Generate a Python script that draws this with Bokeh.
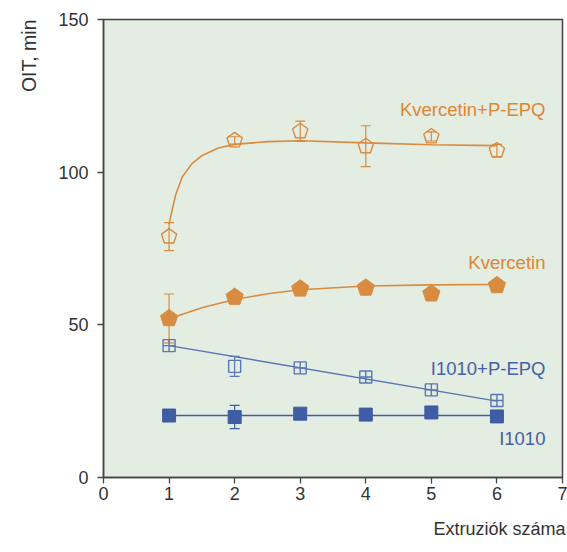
from bokeh.plotting import figure
from bokeh.models import ColumnDataSource, Whisker, TeeHead, Label, FixedTicker, Title
from bokeh.embed import file_html
from bokeh.resources import INLINE

# Data
x = [1, 2, 3, 4, 5, 6]
kv_pepq = [78.9, 110.4, 113.4, 108.5, 111.7, 107.1]
kv_pepq_err = [4.6, 1.2, 3.3, 6.7, 1.5, 2.0]
kv = [52.1, 59.1, 61.8, 62.1, 60.2, 62.9]
kv_err = [8.0, 0.0, 0.0, 0.0, 0.0, 0.0]
i_pepq = [43.2, 36.4, 35.9, 32.9, 28.7, 25.2]
i_pepq_err = [0.0, 3.3, 0.0, 0.0, 0.0, 0.0]
i1010 = [20.3, 19.8, 20.9, 20.6, 21.3, 20.0]
i1010_err = [0.0, 3.8, 0.0, 0.0, 0.0, 0.0]

# Fit curves
kv_pepq_fit_x = [1.0, 1.05, 1.1, 1.2, 1.35, 1.5, 1.75, 2.0, 2.5, 3.0, 4.0, 5.0, 6.0]
kv_pepq_fit_y = [83.0, 88.0, 92.5, 98.4, 102.8, 105.4, 107.9, 109.1, 110.0, 110.3, 109.6, 109.0, 108.7]
kv_fit_x = [1.0, 1.5, 2.0, 2.5, 3.0, 4.0, 5.0, 6.0]
kv_fit_y = [52.0, 55.6, 58.3, 60.2, 61.5, 62.7, 63.1, 63.2]
i_pepq_fit_x = [1.0, 6.0]
i_pepq_fit_y = [43.2, 25.0]
i1010_fit_x = [1.0, 6.0]
i1010_fit_y = [20.3, 20.3]

x_ticks = [0, 1, 2, 3, 4, 5, 6, 7]
y_ticks = [0, 50, 100, 150]
x_title = "Extruziók száma"
y_title = "OIT, min"

ORANGE = "#d98b3f"
ORANGE_T = "#e08634"
BLUE = "#3f5ca4"
BLUE_O = "#5a76b4"
BLUE_T = "#4560aa"
FONT = "Liberation Sans"

p = figure(width=567, height=552, x_range=(0, 7), y_range=(0, 150),
           output_backend="svg", toolbar_location=None,
           min_border_left=103, min_border_right=5, min_border_top=19, min_border_bottom=75)
p.background_fill_color = "#e3ede1"
p.border_fill_color = "white"
p.outline_line_color = "#444444"
p.outline_line_width = 1.5
p.grid.visible = False

for ax in (p.xaxis[0], p.yaxis[0]):
    ax.axis_line_color = "#444444"
    ax.axis_line_width = 1.5
    ax.major_tick_line_color = "#444444"
    ax.major_tick_line_width = 1.3
    ax.major_tick_out = 6
    ax.major_tick_in = 0
    ax.minor_tick_line_color = None
    ax.major_label_text_font = FONT
    ax.major_label_text_font_size = "18px"
    ax.major_label_text_color = "#333333"
p.xaxis.ticker = FixedTicker(ticks=x_ticks)
p.yaxis.ticker = FixedTicker(ticks=y_ticks)
p.xaxis.major_label_standoff = 3
p.yaxis.major_label_standoff = 9

# fit lines
p.line(kv_pepq_fit_x, kv_pepq_fit_y, line_color=ORANGE, line_width=1.6)
p.line(kv_fit_x, kv_fit_y, line_color=ORANGE, line_width=1.6)
p.line(i_pepq_fit_x, i_pepq_fit_y, line_color=BLUE_O, line_width=1.4)
p.line(i1010_fit_x, i1010_fit_y, line_color=BLUE, line_width=1.4)

def whisk(vals, errs, color):
    xs = [xx for xx, e in zip(x, errs) if e > 0]
    lo = [v - e for v, e in zip(vals, errs) if e > 0]
    hi = [v + e for v, e in zip(vals, errs) if e > 0]
    src = ColumnDataSource(dict(x=xs, lo=lo, hi=hi))
    w = Whisker(source=src, base="x", lower="lo", upper="hi", line_color=color, line_width=1.2,
                upper_head=TeeHead(size=10, line_color=color, line_width=1.2),
                lower_head=TeeHead(size=10, line_color=color, line_width=1.2))
    p.add_layout(w)

whisk(kv_pepq, kv_pepq_err, ORANGE)
whisk(kv, kv_err, ORANGE)
whisk(i_pepq, i_pepq_err, BLUE_O)
whisk(i1010, i1010_err, BLUE)

# pentagon markers
p.ngon(x=x, y=kv_pepq, radius=8, radius_units="screen", n=5, fill_color="#e3ede1",
       fill_alpha=0.0, line_color=ORANGE, line_width=1.4)
p.ngon(x=x, y=kv, radius=9, radius_units="screen", n=5, fill_color=ORANGE,
       line_color=ORANGE, line_width=1.0)

# square markers
i_markers = ["square_cross", "square", "square_cross", "square_cross", "square_cross", "square_cross"]
p.scatter(x=x, y=i_pepq, marker=i_markers, size=12, fill_color=None, line_color=BLUE_O, line_width=1.4)
p.scatter(x=x, y=i1010, marker="square", size=13, fill_color=BLUE, line_color=BLUE)

def lab(txt, xx, yy, color):
    p.add_layout(Label(x=xx, y=yy, text=txt, text_color=color, text_font=FONT,
                       text_font_size="18.5px", text_align="right", text_baseline="middle"))

lab("Kvercetin+P-EPQ", 6.74, 120.4, ORANGE_T)
lab("Kvercetin", 6.74, 70.5, ORANGE_T)
lab("I1010+P-EPQ", 6.74, 35.8, BLUE_T)
lab("I1010", 6.74, 12.8, BLUE_T)

# axis titles as side titles
p.add_layout(Title(text=x_title, align="right", text_font=FONT, text_font_size="18px",
                   text_font_style="normal", text_color="#333333", standoff=28, offset=-3,
                   text_line_height=0.5), "below")
p.add_layout(Title(text=y_title, align="right", text_font=FONT, text_font_size="19.5px",
                   text_font_style="normal", text_color="#333333", standoff=31,
                   text_line_height=0.5), "left")

open("out.html", "w").write(file_html(p, INLINE))
